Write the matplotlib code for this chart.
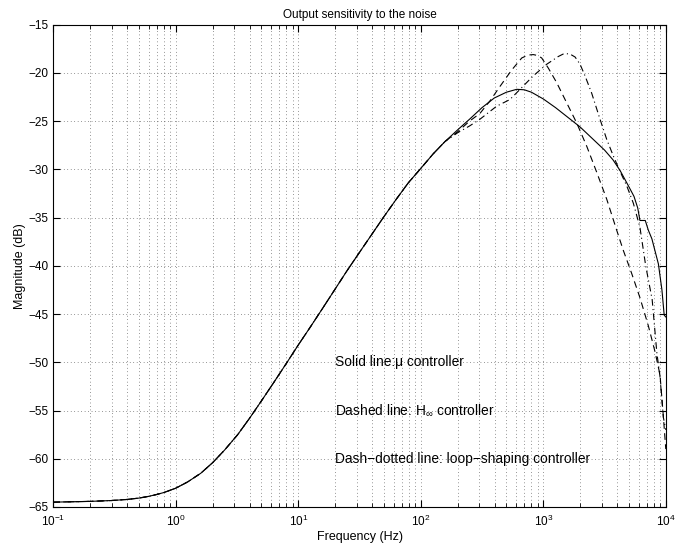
import numpy as np
import matplotlib
matplotlib.use('Agg')
import matplotlib.pyplot as plt
from matplotlib.ticker import LogLocator, FixedLocator, NullFormatter

plt.rcParams['font.family'] = ['Liberation Sans', 'DejaVu Sans']
plt.rcParams['mathtext.fontset'] = 'custom'
plt.rcParams['mathtext.rm'] = 'Liberation Sans'
plt.rcParams['mathtext.it'] = 'Liberation Sans:italic'

# common low-frequency part (all three controllers coincide here)
f_low = [0.1, 0.2, 0.3, 0.4, 0.5, 0.6, 0.7, 0.8, 1.0, 1.25, 1.6, 2.0, 2.5, 3.2, 4.0,
         5.0, 6.3, 8.0, 10, 12.6, 15.8, 20, 25, 31.6, 40, 50, 63, 79, 100, 126, 158]
db_low = [-64.5, -64.42, -64.33, -64.22, -64.08, -63.9, -63.7, -63.5, -63.05, -62.4,
          -61.5, -60.4, -59.1, -57.5, -55.8, -54.0, -52.1, -50.1, -48.2, -46.3, -44.4,
          -42.4, -40.5, -38.6, -36.7, -34.9, -33.1, -31.4, -29.9, -28.4, -27.1]

# solid line: mu controller
f_mu = [200, 250, 316, 398, 500, 607, 700, 800, 1000, 1259, 1585, 1995, 2512, 3162,
        3700, 4227, 4900, 5500, 5900, 6150, 6800, 7200, 7700, 8700, 9300, 9700, 10000]
db_mu = [-25.9, -24.8, -23.6, -22.6, -22.0, -21.7, -21.75, -22.0, -22.7, -23.6, -24.6,
         -25.6, -26.8, -28.0, -29.0, -30.1, -31.6, -32.8, -34.0, -35.3, -35.3, -36.3,
         -37.2, -39.8, -42.5, -45.1, -45.3]

# dashed line: H-infinity controller
f_hinf = [200, 250, 304, 367, 443, 552, 667, 750, 829, 900, 970, 1099, 1285, 1552,
          1875, 2262, 2729, 3296, 3972, 4500, 5270, 6150, 7197, 8165, 8970, 9550, 10000]
db_hinf = [-26.1, -25.0, -24.2, -22.9, -21.4, -19.7, -18.45, -18.15, -18.1, -18.2,
           -18.45, -19.5, -21.0, -23.1, -25.2, -27.6, -30.3, -33.1, -36.3, -38.4, -40.8,
           -43.3, -46.2, -48.9, -51.3, -55.6, -59.0]

# dash-dotted line: loop-shaping controller
f_ls = [200, 250, 304, 416, 534, 646, 829, 1067, 1325, 1450, 1552, 1680, 1817, 1995,
        2190, 2483, 2904, 3296, 3727, 4227, 4797, 5430, 6150, 6855, 7740, 8450, 8970,
        9550, 10000]
db_ls = [-26.2, -25.5, -24.8, -23.45, -22.76, -21.7, -20.3, -19.1, -18.3, -18.05,
         -18.0, -18.1, -18.35, -19.1, -20.3, -22.1, -24.8, -26.9, -28.6, -30.2, -31.7,
         -33.5, -36.0, -40.0, -43.5, -49.0, -51.5, -55.7, -57.0]

fig = plt.figure(figsize=(6.76, 5.51), dpi=100)
ax = fig.add_axes([0.0789, 0.0799, 0.906, 0.8753])

lw = 0.8
ax.semilogx(f_low + f_mu, db_low + db_mu, color='black', lw=lw, linestyle='-')
ax.semilogx(f_low + f_hinf, db_low + db_hinf, color='black', lw=lw, linestyle=(0, (6, 4)))
ax.semilogx(f_low + f_ls, db_low + db_ls, color='black', lw=lw, linestyle=(0, (6, 3, 1, 3)))

ax.set_xlim(0.1, 1e4)
ax.set_ylim(-65, -15)
ax.yaxis.set_major_locator(FixedLocator(np.arange(-65, -14, 5)))
ax.set_yticklabels(['\u2212%d' % -v for v in np.arange(-65, -14, 5)])
ax.xaxis.set_major_locator(LogLocator(base=10, numticks=10))
ax.xaxis.set_minor_locator(LogLocator(base=10, subs=np.arange(2, 10), numticks=100))
ax.xaxis.set_minor_formatter(NullFormatter())

ax.grid(True, which='major', linestyle=(0, (1, 4)), color='black', lw=0.5, alpha=0.8)
ax.grid(True, which='minor', axis='x', linestyle=(0, (1, 4)), color='black', lw=0.5, alpha=0.8)
ax.tick_params(which='both', direction='in', top=True, right=True, labelsize=8.5)
ax.tick_params(which='major', length=5)
ax.tick_params(which='minor', length=3)
ax.tick_params(axis='x', which='major', pad=5)
for s in ax.spines.values():
    s.set_linewidth(0.8)

ax.set_title('Output sensitivity to the noise', fontsize=8.5, pad=5)
ax.set_xlabel('Frequency (Hz)', fontsize=9, labelpad=1)
ax.set_ylabel('Magnitude (dB)', fontsize=9, labelpad=2)

ax.text(20, -50, 'Solid line:\u03bc controller', fontsize=9.9, va='center', ha='left')
ax.text(20, -55, r'Dashed line: H$_{\infty}$ controller', fontsize=9.9, va='center', ha='left')
ax.text(20, -60, 'Dash\u2212dotted line: loop\u2212shaping controller', fontsize=9.9,
        va='center', ha='left')

fig.savefig('out.png', dpi=100)
